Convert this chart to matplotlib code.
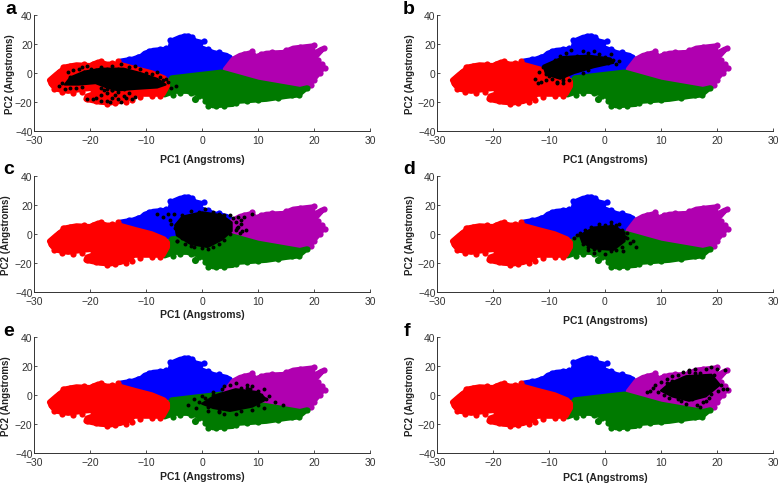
import matplotlib
matplotlib.use('Agg')
import matplotlib.pyplot as plt

plt.rcParams['font.family'] = ['Liberation Sans', 'DejaVu Sans']

W, H = 778, 485
RED, BLUE, PURPLE, GREEN = '#ff0000', '#0000ff', '#b000b0', '#007a00'

# cluster outlines (x, y in Angstroms)
red_x = [-27.2, -26, -25, -24.5, -22.4, -20, -18.5, -17, -14.8, -12, -9, -6.8, -6.2, -6.2, -7, -10, -12.2, -12.8, -14.6, -16.4, -18.2, -20.7, -20.5, -18.2, -18.2, -21.2, -23.9, -26, -26.7]
red_y = [-5, -1, 2, 4, 5.5, 5, 7.5, 6, 6, 3, 0, -3.5, -6, -9, -14.5, -14.5, -14.5, -17, -19.5, -20.5, -20, -18, -16, -13, -10, -11, -12.5, -11, -8.5]
blue_x = [-14.6, -12.3, -10.8, -10.2, -8.7, -5.7, -5.4, -3.9, -2.4, -1.2, -0.1, -0.6, 2, 4.4, 5.2, 3.5, -1, -6]
blue_y = [8, 9.5, 11.5, 13.5, 15.5, 16.5, 22, 24.5, 25.5, 22, 21, 18, 14, 12, 9.5, 3, 0, -2]
purple_x = [5.6, 6.8, 8.9, 9.5, 11.5, 14.5, 16.3, 19.7, 19.8, 21.5, 20, 21.7, 20.2, 19.2, 17.8, 10, 4.2]
purple_y = [9.5, 12, 14, 11, 13.5, 14, 17, 18.5, 13, 16.5, 10, 3.8, -3, -8, -9.5, -4, 2.5]
green_x = [-5.4, -1, 3.5, 10, 17.5, 18.6, 17.2, 15, 11.5, 6, 5.5, 2, 1.2, 0.2, -2.7, -4.8, -6.7, -5.8]
green_y = [-3.5, -1.5, 0.5, -6.5, -11.5, -10.5, -15, -16, -18, -19.5, -21.5, -22.5, -21.5, -15, -12.5, -12.5, -15, -6]
green_dot_x = [-1.2]
green_dot_y = [-18]

# single dots sticking out of the cluster edges
red_edge_x = [-26.5, -25.5, -24.8, -23.5, -21, -19.5, -18, -16, -15, -27, -26.5, -25, -23, -21.5, -19.5, -20.5, -19, -17, -15.5, -13.5, -12.5, -11, -9, -7.5]
red_edge_y = [-3, 1, 4, 5, 6.5, 6, 8.5, 7, 8, -7, -11, -13, -14, -13, -12, -18, -19, -21.5, -21, -20, -18.5, -16.5, -16, -16]
blue_edge_x = [-13, -11.5, -9.5, -7.5, -6.5, -5.7, -4.7, -3.2, -1.8, -0.7, 0.3, 1, 3, 4.8]
blue_edge_y = [10, 11, 15, 16.5, 17, 23, 23, 25.5, 25, 21, 22, 16.5, 14.5, 11]
purple_edge_x = [7.5, 9, 10.5, 12.5, 14, 15, 17.5, 18.5, 20, 21.7, 20.8, 21.5, 22, 21, 20, 19.5]
purple_edge_y = [13, 15, 13, 14.5, 14, 16, 18, 17, 19, 17, 9, 6, 3.5, 0, -5, -8]
green_edge_x = [18.8, 17.3, 16, 13.5, 10, 8, 6, 4, 2.5, 1, 0.5, -0.5, -2, -4, -5.2]
green_edge_y = [-10.5, -15.5, -15.5, -17.5, -18.5, -19, -21, -23, -23, -22.5, -19, -16, -13.5, -14, -15.5]

# dense part of the black points in each panel
core_a_x = [-24.5, -23.5, -21, -18, -14, -11, -8, -6.5, -8, -12, -15, -17, -19, -22]
core_a_y = [-8, -3, 1, 3, 3, 0, -4, -8, -10, -11, -12, -10, -7, -8]
core_b_x = [-11, -7.5, -3, 1, 1.5, -2, -5.5, -8, -10.5]
core_b_y = [5, 11, 12, 10, 7, 4, 0, -4, -1]
core_c_x = [-4.8, -3.5, 0, 3.5, 5.3, 5.3, 3.5, 1, -2, -4.5]
core_c_y = [6, 12, 15, 13, 8, 2, -4, -9, -7, -1]
core_d_x = [-4.5, -2, 1.5, 3.5, 3.5, 1.5, -2, -4]
core_d_y = [-1, 4.5, 5.5, 1, -5, -11, -10, -6]
core_e_x = [0, 2.5, 6, 10, 11.5, 9, 5, 2]
core_e_y = [-6, 0, 4, 2, -3, -8, -11, -9]
core_f_x = [10, 11.5, 14.5, 19, 20.5, 18, 15, 12]
core_f_y = [3, 8, 13, 14, 7, -1, -4, -1]

# loose black points round the dense part
pts_a_x = [-25.5, -25, -24, -23.5, -23, -22, -21.5, -21, -20.5, -19.8, -19, -18, -17, -16, -15, -14.5, -13, -12, -11, -10, -9, -8, -7.5, -7, -6.5, -6, -5.5, -4.6, -20.5, -19.5, -19, -18, -18, -17.5, -17, -17, -16.5, -16, -16, -15.5, -15, -15, -14.5, -14, -14, -13.5, -13, -12.5, -12, -18, -17, -16, -15, -22.5, -24.5, -23.5, -21.5]
pts_a_y = [-9, -7, 1, -3, 2, 3, 4, 1, 5, 3, 2, 4, 3, 5, 3, 6, 4, 5, 3, 0, -1, 1, -3, -5, -4, -6, -10, -9, -18, -18, -17, -19, -15, -12, -14, -19, -20, -17, -12, -15, -18, -13, -20, -16, -11, -17, -14, -18, -16.5, -10, -11, -12, -11, -10, -11, -10.5, -9.5]
pts_b_x = [-12.5, -12, -11.8, -11.5, -11, -10.5, -10, -9.5, -9, -8.5, -8, -7.5, -7, -6.5, -6, -5, -4, -3, -2.5, -2, -1, 0, 0.5, 1, 1.5, 2, 2.5, -8, -7, -6, -5, -4, -3, -9, -10, -8.5, -7.5, -8.5, -7.5, -10.5]
pts_b_y = [-4, -7, 1, -6, 4, -5, 5, -4, 7, -7, 9, -7, 14, -5, 16, 12, 15, 14, 11, 15, 13, 11, 7, 13, 9, 6, 8, 12, 11, 10, 2, 0, 2, 9, -2, -2, -5, -6, -3, -1]
pts_c_x = [-8, -7, -6, -5.7, -5.5, -5, -4.8, -4.5, -4, -3.5, -3, -2, -1, -0.5, 0.5, 2, 3, 4, 5, 5.5, 6, 6.2, 6.5, 6.8, 7, 7.2, 7.5, 7.8, 9, -4.5, -3.5, -3, -2.5, -2, -1.5, 0, 1, 2, 3, 4, 5, 6, 6.5, 7]
pts_c_y = [14, 12, 14, 10, 7, 14, 4, -5, 0, 13, 9, 16, -4, 15, 17, 15, 14, 13, 13, 11, 8, 4, 12, 1, 10, 2, 12, 3, 14, -5, -3, -7, -5, -8, -9, -9.5, -10, -9, -7, -4, 0, 3, 5, 7]
pts_d_x = [-5.5, -5, -4.5, -4, -3.5, -3, -2.5, -2, -1, 0, 1, 2, 2.5, 3, 3.5, 4, 4.5, 5, 5.5, -3, -2, -1, 0, 1, 2, 3, 4, -4, -2.5, 2, 3.2, 1, -1]
pts_d_y = [-3, -1, 1, -7, 3, -9, 5, -10, 7, 6, 8, 5, 7, 3, -2, 1, -6, -5, -9, -11, -13, -11, -14, -12, -11, -9, -3, -5, -8, 6, -12, 6.5, 5.5]
pts_e_x = [-2.5, -1.5, -1, -0.5, 0, 1, 1.5, 2, 3, 3.5, 4, 5, 6, 7, 8, 8.5, 9, 10, 10.5, 11, 11.5, 12, 13, 14.5, 10, 9, 7, 6, 4, 3, 2, 0.5, 1, 8, 11]
pts_e_y = [-7, -3, -9, -5, -1, -11, -3, 2, -12, 4, 6, 7, 8, 5, 7, 4, 6, 3, 0, 4, -3, -1, -5, -7, -7, -10, -11, -13, -13, -11, 0, -2, -8, 5, -9]
pts_f_x = [7.5, 8, 8.5, 9, 9.5, 10, 10.5, 11, 11.5, 12, 13, 13.5, 14, 14.5, 15, 15.5, 16, 16.5, 17, 17.5, 18, 18.5, 19, 19.5, 20, 20.2, 20.8, 21, 21.5, 21.7, 19, 18, 16, 14, 13, 12, 11, 17, 19.5, 15]
pts_f_y = [2, 3, 5, 7, 2, 9, 0, 11, -2, 13, 14, -4, 16, -6, 17, -3, 18, -7, 15, -5, 18, -2, 19, 14, 18, 3, 7, 4, 17, 4, 1, -4, 15, 12, -3, 10, 8, -8, 9, 16]

panels = [
    ('a', 34, 16, core_a_x, core_a_y, pts_a_x, pts_a_y, 10, 160, 5, 10),
    ('b', 437, 16, core_b_x, core_b_y, pts_b_x, pts_b_y, 410, 160, 403, 10),
    ('c', 34, 177, core_c_x, core_c_y, pts_c_x, pts_c_y, 6, 315, 3, 170),
    ('d', 437, 177, core_d_x, core_d_y, pts_d_x, pts_d_y, 410, 321, 403, 170),
    ('e', 34, 338, core_e_x, core_e_y, pts_e_x, pts_e_y, 6, 477, 3, 331),
    ('f', 437, 338, core_f_x, core_f_y, pts_f_x, pts_f_y, 410, 478, 404, 331),
]

clusters = [
    (blue_x, blue_y, blue_edge_x, blue_edge_y, BLUE),
    (purple_x, purple_y, purple_edge_x, purple_edge_y, PURPLE),
    (green_x, green_y, green_edge_x, green_edge_y, GREEN),
    (red_x, red_y, red_edge_x, red_edge_y, RED),
]

fig = plt.figure(figsize=(W / 100, H / 100), dpi=100)

for letter, left, top, cx, cy, px, py, ylab_x, xlab_y, let_x, let_y in panels:
    ax = fig.add_axes([left / W, 1 - (top + 116) / H, 336 / W, 116 / H])
    for xs, ys, ex, ey, col in clusters:
        ax.fill(xs, ys, facecolor=col, edgecolor=col, lw=4, joinstyle='round', zorder=2)
        ax.scatter(ex, ey, s=20, color=col, lw=0, zorder=2)
    ax.scatter(green_dot_x, green_dot_y, s=26, color=GREEN, lw=0, zorder=2)
    # dense part, then the single points
    ax.fill(cx, cy, facecolor='black', edgecolor='black', lw=1.5, joinstyle='round', zorder=3)
    ax.scatter(px, py, s=8, color='black', lw=0, zorder=4)

    ax.set_xlim(-30, 30)
    ax.set_ylim(-40, 40)
    ax.set_xticks(range(-30, 31, 10))
    ax.set_yticks(range(-40, 41, 20))
    ax.spines['top'].set_visible(False)
    ax.spines['right'].set_visible(False)
    for s in ['left', 'bottom']:
        ax.spines[s].set_color('#333333')
        ax.spines[s].set_linewidth(0.7)
    ax.tick_params(axis='x', pad=3)
    ax.tick_params(axis='y', pad=1)
    ax.tick_params(direction='in', length=2.5, width=0.6, labelsize=7.5, color='#333333', labelcolor='#333333')

    fig.text((left + 168) / W, 1 - xlab_y / H, 'PC1 (Angstroms)', fontsize=7.5, fontweight='bold', color='#222222', ha='center', va='center')
    fig.text(ylab_x / W, 1 - (top + 58) / H, 'PC2 (Angstroms)', fontsize=7, fontweight='bold', color='#222222', rotation=90, ha='center', va='center')
    fig.text(let_x / W, 1 - let_y / H, letter, fontsize=14, fontweight='bold', color='black', ha='left', va='center')

fig.savefig('out.png', dpi=100)
